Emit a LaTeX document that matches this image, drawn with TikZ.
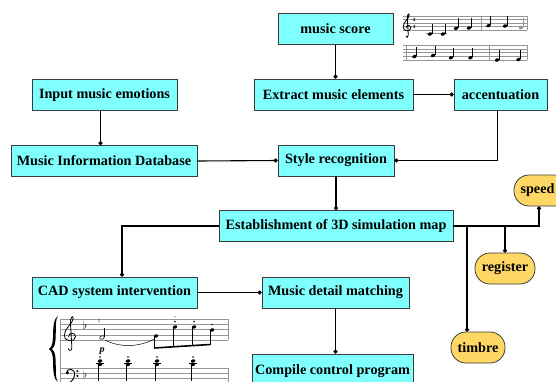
\documentclass[tikz,border=0pt]{standalone}
\usepackage{fontspec}
\setmainfont{Liberation Serif}
\usetikzlibrary{arrows.meta}
\definecolor{boxcyan}{RGB}{128,255,255}
\definecolor{ovalyellow}{RGB}{255,215,100}
\definecolor{edgegray}{RGB}{60,60,60}
\definecolor{staffgray}{RGB}{150,150,150}
\begin{document}
\begin{tikzpicture}[x=1pt,y=-1pt,
  box/.style={draw=edgegray, line width=0.8pt, fill=boxcyan, inner sep=0pt,
    font=\fontsize{14.2}{16}\selectfont\bfseries, minimum height=31pt},
  oval/.style={draw=edgegray, line width=0.8pt, fill=ovalyellow, inner sep=0pt,
    rounded corners=15pt, font=\fontsize{14.2}{16}\selectfont\bfseries, minimum height=31pt},
  link/.style={line width=1.1pt, -{Circle[length=4pt, width=4pt]}},
  staffline/.style={staffgray, line width=0.5pt},
  qnote/.pic={\fill (0,0) ellipse [x radius=2.3, y radius=1.6, rotate=20];
              \draw[line width=0.5pt] (2,-0.5) -- (2,-10);},
  hnote/.pic={\draw[line width=0.6pt] (0,0) ellipse [x radius=2.4, y radius=1.7, rotate=20];
              \draw[line width=0.5pt] (2.2,-0.5) -- (2.2,-10);},
  tclef/.pic={\draw[line width=0.8pt]
      (-0.4,3.0) .. controls (-0.2,3.7) and (0.6,3.4) .. (0.4,2.6)
      -- (0.1,-2.5) .. controls (0,-3.6) and (0.6,-4.4) .. (0.7,-3.6)
      .. controls (0.8,-2.6) and (-1.2,-1.6) .. (-1.2,0.2)
      .. controls (-1.2,1.6) and (1.2,1.7) .. (1.2,0.4)
      .. controls (1.2,-0.6) and (-0.4,-0.6) .. (-0.3,0.5);},
  bclef/.pic={\draw[line width=0.9pt] (-0.6,-0.2) .. controls (-0.6,-1.4) and (1.6,-1.4) .. (1.4,0.4)
      .. controls (1.3,1.6) and (0.2,2.4) .. (-0.8,2.8);
      \fill (-0.4,-0.2) circle (0.45); \fill (2.1,-0.6) circle (0.3); \fill (2.1,0.6) circle (0.3);},
]
\useasboundingbox (0,0) rectangle (556,381);
\clip (0,0) rectangle (556,381);

% ---------- boxes ----------
\node[box, minimum width=115pt] (score)   at (335.5,29)  {music score};
\node[box, minimum width=159pt] (extract) at (333.5,94.5) {Extract music elements};
\node[box, minimum width=93pt]  (accent)  at (500.5,94.5) {accentuation};
\node[box, minimum width=145pt] (input)   at (104.5,95)  {Input music emotions};
\node[box, minimum width=186pt] (mid)     at (104,161)   {Music Information Database};
\node[box, minimum width=116pt] (style)   at (336,160.5) {Style recognition};
\node[box, minimum width=234pt] (estab)   at (336,226)   {Establishment of 3D simulation map};
\node[box, minimum width=165pt] (cad)     at (114.5,292.5) {CAD system intervention};
\node[box, minimum width=147pt] (mdm)     at (335.5,292.5) {Music detail matching};
\node[box, minimum width=161pt, minimum height=34pt] (compile) at (332.5,371) {Compile control program};

\node[oval, minimum width=60pt] (speed)    at (544,190.5) {\hspace*{-13pt}speed};
\node[oval, minimum width=60pt] (register) at (505,268.5) {register};
\node[oval, minimum width=54pt] (timbre)   at (478,347.5) {timbre};

\coordinate (b1) at (505,225);
\coordinate (b2) at (467,225);
\coordinate (b3) at (539,225);
\coordinate (c1) at (122,226);

% ---------- connectors ----------
\draw[link] (score.south) -- (score.south |- extract.north);
\draw[link] (extract.east) -- (accent.west);
\draw[link] ([xshift=-3pt]accent.south) |- (style.east);
\draw[link] ([xshift=-4pt]input.south) -- ([xshift=-4pt]input.south |- mid.north);
\draw[link] (mid.east) -- (style.west);
\draw[link] (style.south) -- (estab.north);
\draw[link] (estab.east) -| (b3 |- speed.south);
\draw[link] (b1 |- estab.east) -- (register.north);
\draw[link] (b2 |- estab.east) -- (b2 |- timbre.north);
\draw[link] (estab.west) -| (c1 |- cad.north);
\draw[link] (cad.east) -- (mdm.west);
\draw[link] (mdm.south) -- (mdm.south |- compile.north);

% ---------- top right score ----------
\foreach \i in {0,...,4} {
  \draw[staffline] (403,16+3.5*\i) -- (527,16+3.5*\i);
  \draw[staffline] (403,45+3.75*\i) -- (527,45+3.75*\i);
}
\pic[scale=3.2] at (407,26.5) {tclef};
\node[font=\fontsize{5}{5}\selectfont\bfseries, inner sep=0pt] (ts1) at (414,20) {4};
\node[font=\fontsize{5}{5}\selectfont\bfseries, inner sep=0pt] (ts2) at (414,26.5) {4};
\draw[staffline] (426,33.5) -- (447,33.5);
\pic at (430,34) {qnote};
\pic at (443,34) {qnote};
\pic at (456,28.3) {qnote};
\pic at (469,28) {qnote};
\draw[staffline, line width=0.7pt] (481,16) -- (481,30);
\pic at (488.5,25.7) {qnote};
\pic at (505,26) {qnote};
\pic[staffgray] at (521,27.7) {qnote};
\draw[staffline, line width=0.7pt] (527,16) -- (527,30);

\draw[staffline, line width=0.7pt] (406,45) -- (406,60);
\pic at (414.5,56.5) {qnote};
\pic at (433,55.5) {qnote};
\pic at (451,57.7) {qnote};
\pic at (470.5,57.7) {qnote};
\draw[staffline, line width=0.7pt] (489,45) -- (489,60);
\pic at (497,60) {qnote};
\pic at (518.5,59.5) {qnote};
\draw[staffline, line width=0.7pt] (527,45) -- (527,60);

% ---------- piano score bottom left ----------
\foreach \i in {0,...,4} {
  \draw[staffline] (60,319+5.25*\i) -- (228,319+5.25*\i);
  \draw[staffline] (60,368+5.25*\i) -- (228,368+5.25*\i);
}
\draw[line width=0.8pt, staffgray] (60,319) -- (60,390);
\draw[staffline, line width=0.7pt] (228,319) -- (228,340);
\draw[staffline, line width=0.7pt] (228,368) -- (228,390);
\fill (58,316) .. controls (49,322) and (57,344) .. (49,349)
  .. controls (57,354) and (49,376) .. (58,382)
  .. controls (53,376) and (59,354) .. (52,349)
  .. controls (59,344) and (53,322) .. (58,316) -- cycle;
\pic[scale=4.6] at (70,334.75) {tclef};
\node[inner sep=0pt, font=\fontsize{11}{11}\selectfont] (fl1) at (85,325) {$\flat$};
\pic[scale=4] at (69,373.5) {bclef};
\node[inner sep=0pt, font=\fontsize{10}{10}\selectfont] (fl2) at (85,375) {$\flat$};
\node[inner sep=0pt, font=\fontsize{5}{5}\selectfont] (fg1) at (99,321) {1};
\pic at (102,337.5) {hnote};
\draw[line width=0.5pt] (105,340) .. controls (120,348) and (140,347) .. (154,339);
\fill (156,336) ellipse [x radius=2.3, y radius=1.6, rotate=20];
\fill (175,327) ellipse [x radius=2.3, y radius=1.6, rotate=20];
\fill (194,327) ellipse [x radius=2.3, y radius=1.6, rotate=20];
\fill (212,330) ellipse [x radius=2.3, y radius=1.6, rotate=20];
\draw[line width=0.5pt] (154,336.5) -- (154,348) (173,327.5) -- (173,346.5) (192,327.5) -- (192,345.5) (210,330.5) -- (210,344.5);
\draw[line width=1.6pt] (154,348) -- (210,344.5);
\fill (175,321.5) circle (0.8) (194,321.5) circle (0.8) (212,324.5) circle (0.8) (175,316.5) circle (0.5);
\node[inner sep=0pt, font=\fontsize{10}{10}\selectfont\bfseries\itshape] (dyn) at (102,351) {p};
\foreach \xx in {100,128,157,193} {
  \fill (\xx,361) ellipse [x radius=2.4, y radius=1.7, rotate=20];
  \fill (\xx,364.5) ellipse [x radius=2.4, y radius=1.7, rotate=20];
  \draw[line width=0.5pt] (\xx-4,362.75) -- (\xx+4,362.75);
  \draw[line width=0.5pt] (\xx-2,365) -- (\xx-2,381);
  \fill (\xx,357) circle (0.8);
}
\end{tikzpicture}
\end{document}
